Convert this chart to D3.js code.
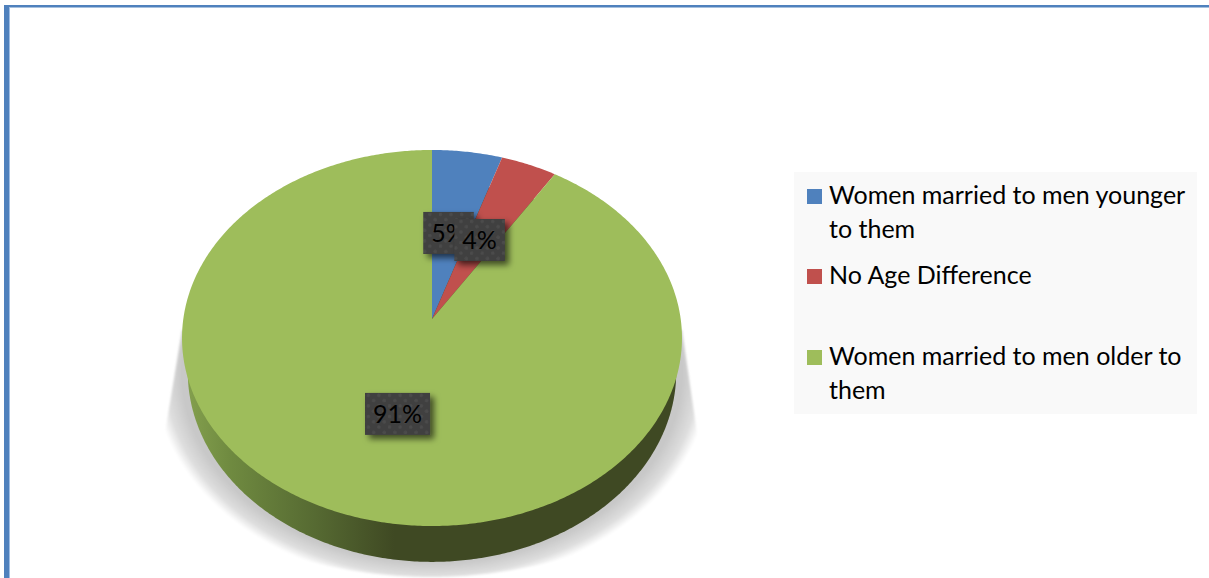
<!DOCTYPE html>
<html>
<head>
<meta charset="utf-8">
<script src="https://cdn.jsdelivr.net/npm/d3@7"></script>
<style>
  html, body { margin: 0; padding: 0; background: #fff; overflow: hidden; }
  svg { display: block; }
  text { font-family: Lato, "Open Sans", sans-serif; fill: #000; }
</style>
</head>
<body>
<script>
// Age difference between spouses, share of women in each group (%)
const categories = [
  "Women married to men younger to them",
  "No Age Difference",
  "Women married to men older to them"
];
const shares = [5, 4, 91];
const colors = ["#4f81bd", "#c0504d", "#9ebd5b"];
const legendLines = [
  ["Women married to men younger", "to them"],
  ["No Age Difference"],
  ["Women married to men older to", "them"]
];
// Hand placement of the data labels relative to each slice centre
const labelNudges = [[-2, 1.5], [-3, 1.5], [2, 1]];

const width = 1209, height = 578;
const svg = d3.select("body").append("svg").attr("width", width).attr("height", height);
const defs = svg.append("defs");

// Tilted disc: unit circle coordinates are pushed through a perspective map
function disc(cx, cy, w, h, k) {
  return (angle, r = 1) => {
    const u = r * Math.sin(angle), v = -r * Math.cos(angle), d = 1 - k * v;
    return [cx + w * u / d, cy + h * v / d];
  };
}
const topFace = disc(432, 319, 248.7, 186.1, 0.101);
const underFace = disc(432, 353, 243, 188, 0.1);

const line = d3.line();
const arcSamples = (f, a0, a1) => {
  const n = Math.max(2, Math.ceil(Math.abs(a1 - a0) / 0.01));
  return d3.range(n + 1).map(i => f(a0 + (a1 - a0) * i / n));
};

const slices = d3.pie().sort(null).value(d => d)(shares);

// Ground shadow: a wedge flaring out from the disc, fading toward its rim
const shadowGradient = defs.append("radialGradient").attr("id", "ground")
  .attr("gradientUnits", "userSpaceOnUse")
  .attr("cx", 0).attr("cy", 0).attr("r", 1)
  .attr("gradientTransform", "translate(432,372) scale(278,212)");
[[0, "#c8c8c8"], [0.9, "#c8c8c8"], [0.96, "#dedede"], [1, "#ffffff"]]
  .forEach(([o, c]) => shadowGradient.append("stop").attr("offset", o).attr("stop-color", c));
defs.append("filter").attr("id", "groundBlur")
  .append("feGaussianBlur").attr("stdDeviation", 1);
const shadowFace = disc(431, 433, 266, 144, 0);
const shadowOutline = [[182, 330]]
  .concat(arcSamples(shadowFace, Math.PI * 1.5, Math.PI * 0.5))
  .concat([[682, 330]]);
svg.append("path")
  .attr("d", line(shadowOutline) + "Z")
  .attr("fill", "url(#ground)")
  .attr("filter", "url(#groundBlur)");

// Outer wall of the disc, lit from the left
const wallGradient = defs.append("linearGradient").attr("id", "wall")
  .attr("gradientUnits", "userSpaceOnUse")
  .attr("x1", 186).attr("x2", 682).attr("y1", 0).attr("y2", 0);
[[0, "#84a04e"], [0.09, "#6f8a40"], [0.26, "#566a32"], [0.42, "#3f4923"], [1, "#3f4923"]]
  .forEach(([o, c]) => wallGradient.append("stop").attr("offset", o).attr("stop-color", c));
svg.append("path")
  .attr("d", line(arcSamples(underFace, 0, 2 * Math.PI)) + "Z")
  .attr("fill", "url(#wall)");

// Top face slices
svg.append("g").selectAll("path").data(slices).join("path")
  .attr("d", d => line([topFace(0, 0), ...arcSamples(topFace, d.startAngle, d.endAngle)]) + "Z")
  .attr("fill", (d, i) => colors[i]);

// Data label boxes
const dots = defs.append("pattern").attr("id", "dots")
  .attr("patternUnits", "userSpaceOnUse").attr("width", 10.6).attr("height", 10.6);
dots.append("rect").attr("width", 10.6).attr("height", 10.6).attr("fill", "#3f3f3f");
[[2.6, 2.6], [7.9, 7.9]].forEach(([x, y]) =>
  dots.append("circle").attr("cx", x).attr("cy", y).attr("r", 1.8).attr("fill", "#4b4b4b"));

const boxShadow = defs.append("filter").attr("id", "boxShadow")
  .attr("x", "-30%").attr("y", "-30%").attr("width", "170%").attr("height", "170%");
boxShadow.append("feDropShadow")
  .attr("dx", 4).attr("dy", 4).attr("stdDeviation", 3)
  .attr("flood-color", "#000").attr("flood-opacity", 0.6);

const labels = svg.append("g").selectAll("g").data(slices).join("g")
  .attr("transform", (d, i) => {
    const [x, y] = topFace((d.startAngle + d.endAngle) / 2, 0.5);
    return `translate(${x + labelNudges[i][0]},${y + labelNudges[i][1]})`;
  });
labels.append("rect").attr("filter", "url(#boxShadow)");
labels.append("text")
  .attr("text-anchor", "middle")
  .attr("dy", 9)
  .attr("font-size", 25)
  .text((d, i) => shares[i] + "%");
labels.each(function () {
  const g = d3.select(this);
  const w = g.select("text").node().getComputedTextLength() + 16;
  g.select("rect").attr("x", -w / 2).attr("y", -21).attr("width", w).attr("height", 42)
    .attr("fill", "url(#dots)");
});

// Legend panel
svg.append("rect").attr("x", 794).attr("y", 172).attr("width", 403).attr("height", 242).attr("fill", "#f9f9f9");
const legendTops = [189, 269, 350];
const legendItems = svg.append("g").selectAll("g").data(categories).join("g")
  .attr("transform", (d, i) => `translate(807,${legendTops[i]})`)
  .attr("aria-label", d => d);
legendItems.append("rect").attr("width", 15).attr("height", 15).attr("fill", (d, i) => colors[i]);
legendItems.each(function (d, i) {
  d3.select(this).selectAll("text").data(legendLines[i]).join("text")
    .attr("x", 22).attr("y", (t, j) => 15 + j * 33.5)
    .attr("font-size", 25)
    .text(t => t);
});

// Page border
svg.append("rect").attr("x", 4).attr("y", 5).attr("width", width).attr("height", 2.5).attr("fill", "#4f81bd");
svg.append("rect").attr("x", 4).attr("y", 5).attr("width", 5).attr("height", height).attr("fill", "#4f81bd");
svg.append("rect").attr("x", 9).attr("y", 7.5).attr("width", 1).attr("height", height).attr("fill", "#9fbde3");
</script>
</body>
</html>
